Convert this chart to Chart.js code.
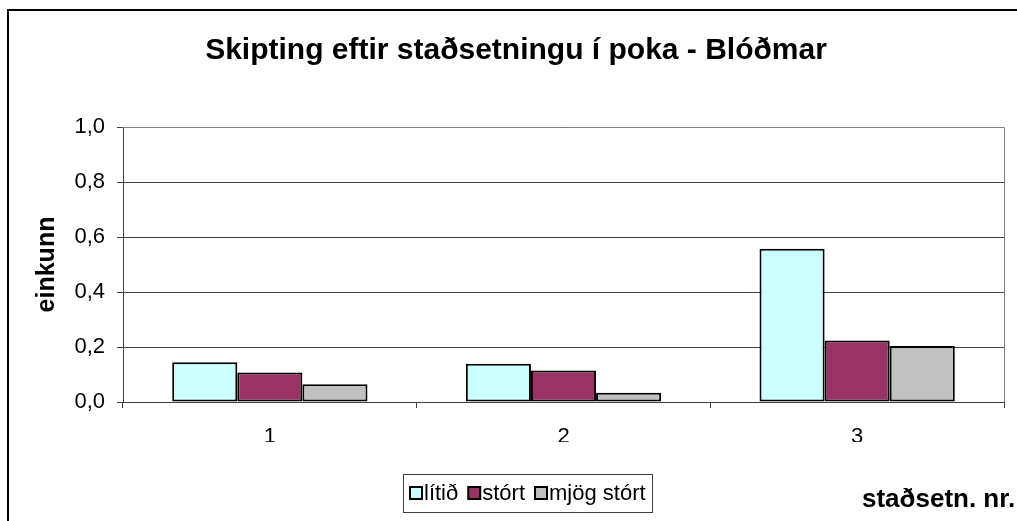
<!DOCTYPE html>
<html>
<head>
<meta charset="utf-8">
<script src="https://cdn.jsdelivr.net/npm/chart.js@4"></script>
<style>
  html, body { margin: 0; padding: 0; background: #fff; }
  #wrap { width: 1017px; height: 521px; }
</style>
</head>
<body>
<div id="wrap"><canvas id="c" width="1017" height="521"></canvas></div>
<script>
// data
const categories = ['1', '2', '3'];
const seriesNames = ['lítið', 'stórt', 'mjög stórt'];
const litid = [0.145, 0.139, 0.557];
const stort = [0.107, 0.115, 0.224];
const mjogStort = [0.065, 0.034, 0.204];
const yTicks = [0, 0.2, 0.4, 0.6, 0.8, 1.0];
const colors = ['#CCFFFF', '#993366', '#C0C0C0'];

const FONT = '"Liberation Sans", Arial, sans-serif';

// frame, title, axis titles and the boxed legend
const decor = {
  id: 'decor',
  afterDraw(chart) {
    const ctx = chart.ctx;
    const a = chart.chartArea;
    ctx.save();

    // plot border (grey)
    ctx.strokeStyle = '#808080';
    ctx.lineWidth = 1;
    ctx.beginPath();
    ctx.moveTo(a.left, a.top + 0.5);
    ctx.lineTo(a.right + 0.5, a.top + 0.5);
    ctx.lineTo(a.right + 0.5, a.bottom);
    ctx.stroke();

    // outer frame
    ctx.strokeStyle = '#000';
    ctx.lineWidth = 2;
    ctx.strokeRect(8, 10, 1100, 600);

    // title
    ctx.fillStyle = '#000';
    ctx.textAlign = 'center';
    ctx.textBaseline = 'middle';
    ctx.font = 'bold 30px ' + FONT;
    ctx.fillText('Skipting eftir staðsetningu í poka - Blóðmar', 516, 51);

    // y title
    ctx.save();
    ctx.translate(47, (a.top + a.bottom) / 2);
    ctx.rotate(-Math.PI / 2);
    ctx.font = 'bold 25px ' + FONT;
    ctx.fillText('einkunn', 0, 0);
    ctx.restore();

    // x title
    ctx.textAlign = 'left';
    ctx.font = 'bold 26px ' + FONT;
    ctx.fillText('staðsetn. nr.', 862, 500);

    // legend
    ctx.font = '22px ' + FONT;
    const bx = 403, by = 474, bw = 249, bh = 38;
    ctx.strokeStyle = '#404040';
    ctx.lineWidth = 1;
    ctx.strokeRect(bx + 0.5, by + 0.5, bw, bh);
    let x = bx + 7;
    const cy = by + bh / 2 + 1;
    chart.data.datasets.forEach(ds => {
      ctx.fillStyle = ds.backgroundColor;
      ctx.fillRect(x, cy - 7, 12, 12);
      ctx.strokeStyle = '#000';
      ctx.lineWidth = 2;
      ctx.strokeRect(x, cy - 7, 12, 12);
      ctx.fillStyle = '#000';
      ctx.fillText(ds.label, x + 14, cy);
      x += 14 + ctx.measureText(ds.label).width + 10;
    });

    ctx.restore();
  }
};

new Chart(document.getElementById('c'), {
  type: 'bar',
  data: {
    labels: categories,
    datasets: [litid, stort, mjogStort].map((d, i) => ({
      label: seriesNames[i],
      data: d,
      backgroundColor: colors[i],
      borderColor: '#000',
      borderWidth: 2,
      borderSkipped: false,
      barPercentage: 1,
      categoryPercentage: 0.665
    }))
  },
  options: {
    responsive: false,
    animation: false,
    layout: { padding: { top: 127, right: 13, bottom: 79, left: 0 } },
    plugins: {
      legend: { display: false },
      title: { display: false },
      tooltip: { enabled: false }
    },
    scales: {
      x: {
        afterFit(s) { s.height = 40; },
        grid: { offset: true, drawOnChartArea: false, color: '#404040', tickLength: 6 },
        border: { color: '#404040' },
        ticks: { color: '#000', font: { family: FONT, size: 22 }, padding: 16 }
      },
      y: {
        min: 0, max: 1,
        afterFit(s) { s.width = 123; },
        afterBuildTicks(s) { s.ticks = yTicks.map(v => ({ value: v })); },
        grid: { color: '#404040', tickLength: 6 },
        border: { color: '#404040' },
        ticks: {
          color: '#000',
          font: { family: FONT, size: 22 },
          padding: 12,
          callback: v => v.toFixed(1).replace('.', ',')
        }
      }
    }
  },
  plugins: [decor]
});
</script>
</body>
</html>
